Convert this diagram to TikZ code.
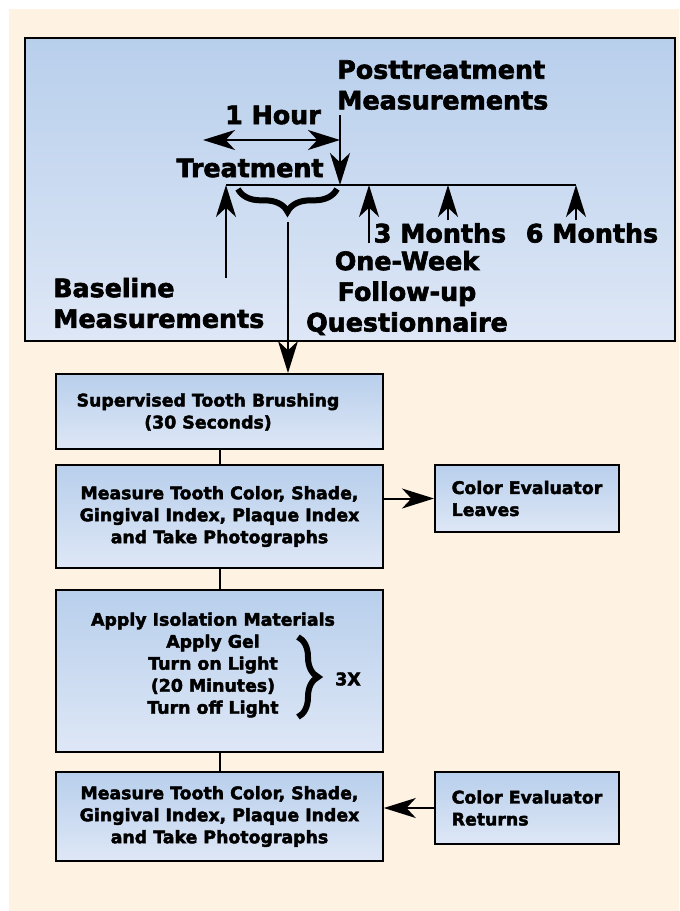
\documentclass[tikz,border=0pt]{standalone}
\usepackage{fontspec}
\setmainfont{DejaVu Sans}[BoldFeatures={FakeBold=2.5}]
\usetikzlibrary{arrows.meta,decorations.pathreplacing}
\definecolor{cream}{RGB}{254,243,227}
\definecolor{bluetop}{RGB}{184,207,236}
\definecolor{bluebot}{RGB}{222,231,246}

\begin{document}
\begin{tikzpicture}[
    x=0.75pt, y=-0.75pt,
    >={Stealth[length=24pt, width=15pt, inset=7pt]},
    big/.style={font=\bfseries\fontsize{19pt}{23pt}\selectfont, inner sep=0pt},
    small/.style={font=\bfseries\fontsize{13pt}{16.5pt}\selectfont, inner sep=0pt},
    panel/.style={draw=black, line width=1.5pt, rectangle, top color=bluetop, bottom color=bluebot},
    box/.style={panel, small, align=center, minimum width=245pt},
    evalbox/.style={panel, small, align=left, minimum width=138pt},
    arrow/.style={->, line width=1.5pt},
    dblarrow/.style={<->, line width=1.5pt},
    link/.style={line width=1.5pt},
    brace/.style={decorate, decoration={brace, amplitude=#1}, line width=4.5pt}
]
\useasboundingbox (0,0) rectangle (679,911);

% Background
\fill[cream] (9,9) rectangle (679,911);

% Timeline panel
\node[panel, minimum width=487.5pt, minimum height=227pt] (frame) at (350,189.5) {};

% Time points
\coordinate (t0) at (226,185);
\coordinate (t1) at (340,185);
\coordinate (t2) at (369,185);
\coordinate (t3) at (448,185);
\coordinate (t4) at (576,185);
\draw[link] (t0) -- (t4);

% Labels
\node[big, align=left, anchor=west] (post) at (337,85) {Posttreatment\\Measurements};
\node[big] (hour) at (273,115) {1 Hour};
\node[big] (treat) at (250,168) {Treatment};
\node[big, align=left, anchor=west] (base) at (53,303) {Baseline\\Measurements};
\node[big] (m3) at (440,233) {3 Months};
\node[big] (m6) at (592,233) {6 Months};
\node[big, align=center] (week) at (407,293) {One-Week\\Follow-up\\Questionnaire};

% Timeline arrows
\coordinate (h0) at (203,140);
\coordinate (w0) at (369,243);
\draw[dblarrow] (h0) -- (h0 -| t1);
\draw[arrow] ([yshift=-4pt]post.south -| t1) -- (t1);
\draw[arrow] (base.north -| t0) -- (t0);
\draw[arrow] (w0) -- (t2);
\draw[arrow] ([yshift=2pt]m3.north -| t3) -- (t3);
\draw[arrow] ([yshift=2pt]m6.north -| t4) -- (t4);

% Treatment brace
\coordinate (b0) at (238,189);
\coordinate (b1) at (337,189);
\coordinate (btip) at (288,222);
\draw[brace=17pt] (b1) -- (b0);

% Steps
\node[box, minimum height=56.25pt] (brush) at (219.5,411.5) {};
\node[small, align=center] (brushtext) at (208,412) {Supervised Tooth Brushing\\(30 Seconds)};
\node[box, minimum height=77.25pt] (measure) at (219.5,516.5) {Measure Tooth Color, Shade,\\Gingival Index, Plaque Index\\and Take Photographs};
\node[box, minimum height=121.5pt] (isolate) at (219.5,671) {};
\node[small, align=center] (steps) at (213,665) {Apply Isolation Materials\\Apply Gel\\Turn on Light\\(20 Minutes)\\Turn off Light};
\node[box, minimum height=66.75pt] (remeasure) at (219.5,816.5) {Measure Tooth Color, Shade,\\Gingival Index, Plaque Index\\and Take Photographs};

% Evaluator
\node[evalbox, minimum height=50.25pt] (leaves) at (527,498.5) {Color Evaluator\\Leaves};
\node[evalbox, minimum height=54pt] (returns) at (527,808) {Color Evaluator\\Returns};

% Repeat brace
\coordinate (l0) at (298,637);
\coordinate (l1) at (298,717);
\draw[brace=15pt] (l0) -- (l1);
\node[small] (times) at (348,679) {3X};

% Connections
\draw[arrow] (btip) -- (btip |- brush.north);
\draw[link] (brush) -- (measure);
\draw[link] (measure) -- (isolate);
\draw[link] (isolate) -- (remeasure);
\draw[arrow] (measure.east |- leaves) -- (leaves);
\draw[arrow] (returns) -- (remeasure.east |- returns);

\end{tikzpicture}
\end{document}
